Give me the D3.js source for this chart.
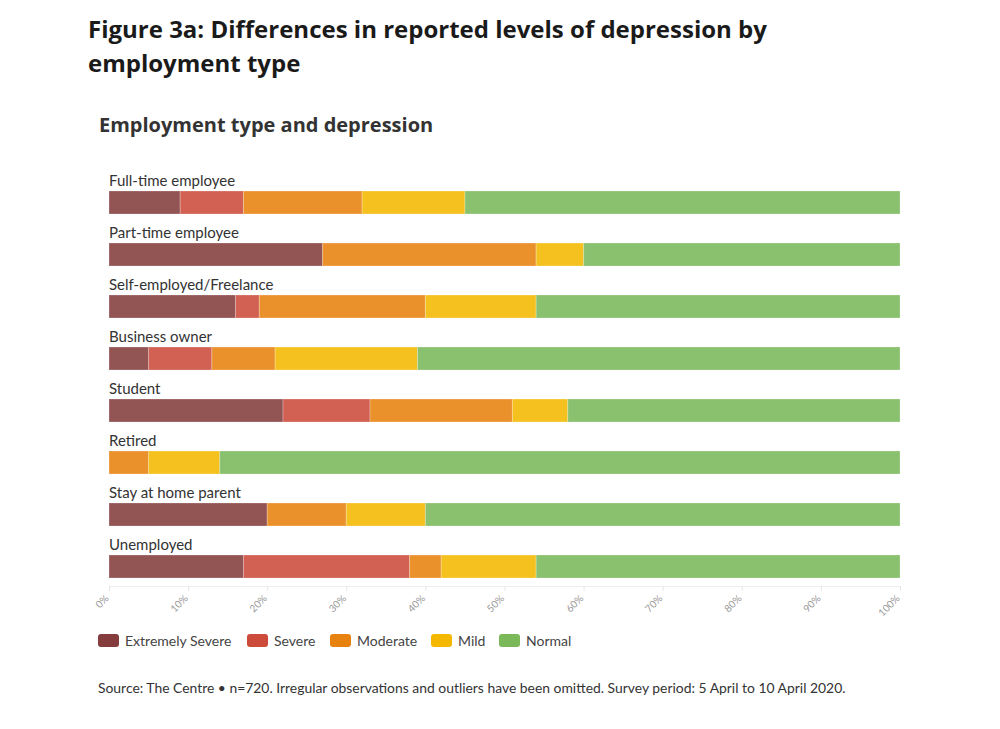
<!DOCTYPE html>
<html>
<head>
<meta charset="utf-8">
<script src="https://cdn.jsdelivr.net/npm/d3@7"></script>
<style>
  body { margin: 0; background: #fff; }
  svg text { font-family: Lato, "Open Sans", sans-serif; }
</style>
</head>
<body>
<svg id="chart" width="1000" height="729"></svg>
<script>
var categories = ["Full-time employee", "Part-time employee", "Self-employed/Freelance", "Business owner",
  "Student", "Retired", "Stay at home parent", "Unemployed"];
var levels = ["Extremely Severe", "Severe", "Moderate", "Mild", "Normal"];
var extremelySevere = [9, 27, 16, 5, 22, 0, 20, 17];
var severe = [8, 0, 3, 8, 11, 0, 0, 21];
var moderate = [15, 27, 21, 8, 18, 5, 10, 4];
var mild = [13, 6, 14, 18, 7, 9, 10, 12];
var normal = [55, 40, 46, 61, 42, 86, 60, 46];
var ticks = [0, 10, 20, 30, 40, 50, 60, 70, 80, 90, 100];

var colors = ["#843c3c", "#cc4b3b", "#e8820f", "#f4b800", "#7ab85a"];

var rows = categories.map(function (c, i) {
  return { name: c, "Extremely Severe": extremelySevere[i], "Severe": severe[i],
    "Moderate": moderate[i], "Mild": mild[i], "Normal": normal[i] };
});

var svg = d3.select('#chart');

// titles
svg.append('text').attr('x', 88).attr('y', 38)
  .style('font-family', '"Open Sans", sans-serif')
  .attr('font-size', 24).attr('font-weight', 700).attr('fill', '#1a1a1a')
  .text('Figure 3a: Differences in reported levels of depression by');
svg.append('text').attr('x', 88).attr('y', 72)
  .style('font-family', '"Open Sans", sans-serif')
  .attr('font-size', 24).attr('font-weight', 700).attr('fill', '#1a1a1a')
  .text('employment type');
svg.append('text').attr('x', 99).attr('y', 132)
  .style('font-family', '"Open Sans", sans-serif')
  .attr('font-size', 20).attr('font-weight', 700).attr('fill', '#333')
  .text('Employment type and depression');

var x = d3.scaleLinear().domain([0, 100]).range([109, 900]);
var y = d3.scaleBand().domain(categories).range([164, 580]).paddingInner(0).paddingOuter(0);
var color = d3.scaleOrdinal().domain(levels).range(colors);

var stack = d3.stack().keys(levels)(rows);

// axis
var axis = svg.append('g')
  .attr('transform', 'translate(0,586)')
  .call(d3.axisBottom(x).tickValues(ticks).tickSize(5).tickFormat(function (d) { return d + '%'; }));
axis.select('.domain').attr('stroke', '#eee');
axis.selectAll('.tick line').attr('stroke', '#e6e6e6');
axis.selectAll('.tick text')
  .attr('fill', '#999').attr('font-size', 10)
  .style('font-family', 'Lato, sans-serif')
  .attr('text-anchor', 'end')
  .attr('dy', 0).attr('y', 0)
  .attr('transform', 'translate(0,13) rotate(-45)');

// category labels
svg.append('g').selectAll('text')
  .data(categories)
  .join('text')
  .attr('x', 109)
  .attr('y', function (d) { return y(d) + 22; })
  .attr('font-size', 15).attr('fill', '#333')
  .text(function (d) { return d; });

// bars
svg.append('g').selectAll('g')
  .data(stack)
  .join('g')
  .attr('fill', function (d) { return color(d.key); })
  .selectAll('rect')
  .data(function (d) { return d; })
  .join('rect')
  .attr('x', function (d) { return x(d[0]); })
  .attr('y', function (d) { return y(d.data.name) + 27; })
  .attr('width', function (d) { return x(d[1]) - x(d[0]); })
  .attr('height', 23)
  .attr('fill-opacity', 0.88)
  .attr('stroke', '#fff').attr('stroke-opacity', 0.25).attr('stroke-width', 1);

// legend
var lx = [98, 247, 330, 431, 499];
var legend = svg.append('g').selectAll('g')
  .data(levels)
  .join('g')
  .attr('transform', function (d, i) { return 'translate(' + lx[i] + ',634)'; });
legend.append('rect')
  .attr('width', 21).attr('height', 13).attr('rx', 3)
  .attr('fill', function (d) { return color(d); });
legend.append('text')
  .attr('x', 27).attr('y', 12)
  .attr('font-size', 14).attr('fill', '#444')
  .text(function (d) { return d; });

svg.append('text').attr('x', 98).attr('y', 693)
  .attr('font-size', 13.9).attr('fill', '#333')
  .text('Source: The Centre \u2022 n=720. Irregular observations and outliers have been omitted. Survey period: 5 April to 10 April 2020.');
</script>
</body>
</html>
